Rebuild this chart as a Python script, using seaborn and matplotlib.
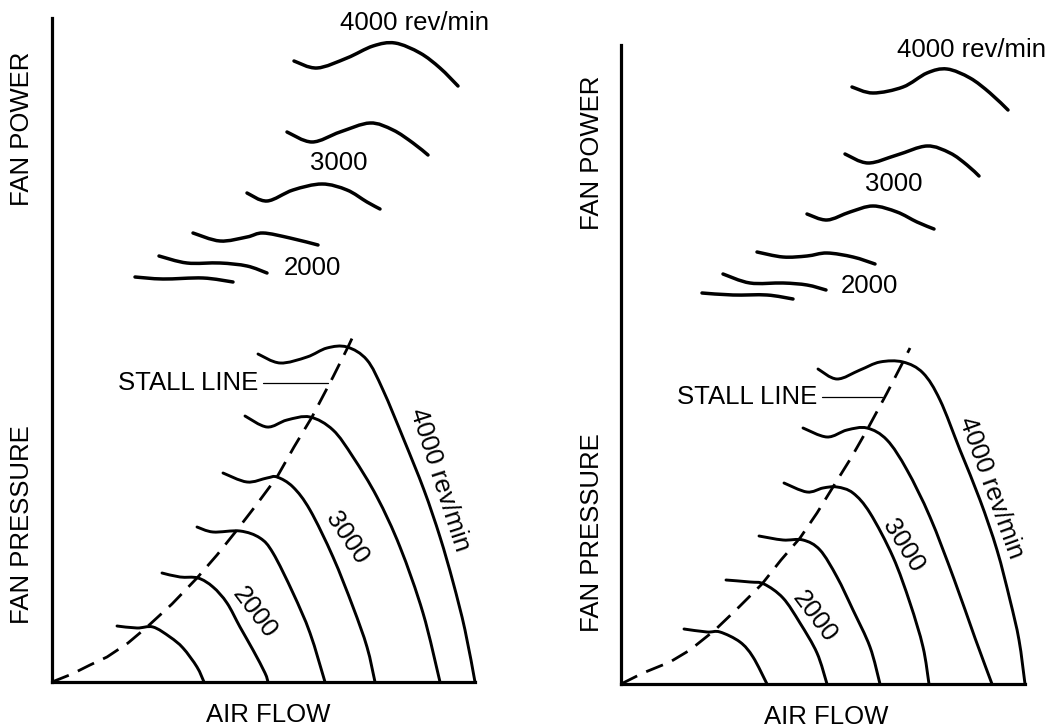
import matplotlib
matplotlib.use("Agg")
import matplotlib.pyplot as plt
from matplotlib.path import Path
from matplotlib.patches import PathPatch
import seaborn as sns
import pandas as pd
import numpy as np

# ---------------------------------------------------------------------------
# Fan characteristics: pressure and power against air flow for several speeds
# (relative units, origin at the corner of each frame)
# ---------------------------------------------------------------------------

# Left diagram ---------------------------------------------------------------
left_pressure = [
    [(65, 56), (85, 54), (101, 55), (118, 45), (131, 34), (145, 15), (152, 0)],
    [(110, 109), (128, 105), (146, 104), (161, 95), (175, 79), (188, 55),
     (201, 32), (213, 9), (216, 0)],
    [(145, 155), (161, 150), (188, 151), (208, 144), (221, 129), (241, 89),
     (258, 49), (273, 0)],
    [(171, 209), (195, 200), (215, 204), (225, 205), (241, 195), (258, 172),
     (281, 125), (301, 75), (315, 35), (323, 0)],
    [(193, 266), (215, 255), (235, 262), (258, 265), (281, 252), (301, 225),
     (325, 185), (348, 135), (371, 69), (388, 0)],
    [(206, 328), (228, 319), (255, 325), (275, 334), (295, 335), (315, 322),
     (331, 292), (352, 242), (372, 192), (388, 145), (401, 100), (413, 52),
     (423, 0)],
]
left_power = [
    [(83, 405), (111, 403), (151, 404), (181, 400)],
    [(107, 426), (135, 419), (168, 419), (195, 416), (215, 409)],
    [(141, 449), (168, 441), (195, 445), (211, 449), (238, 444), (266, 437)],
    [(195, 489), (215, 481), (241, 492), (270, 498), (295, 492), (315, 480),
     (328, 473)],
    [(235, 550), (260, 540), (288, 550), (318, 559), (341, 552), (361, 539),
     (376, 527)],
    [(242, 621), (265, 614), (295, 624), (321, 636), (343, 639), (368, 629),
     (388, 614), (406, 596)],
]
left_stall = [(0, 0), (20, 8), (38, 17), (55, 25), (76, 39), (95, 55),
              (120, 78), (145, 104), (165, 127), (185, 152), (205, 178),
              (225, 205), (242, 235), (260, 265), (281, 305), (296, 335),
              (303, 350)]

# Right diagram --------------------------------------------------------------
right_pressure = [
    [(63, 55), (86, 52), (99, 52), (119, 42), (132, 27), (146, 0)],
    [(105, 104), (129, 102), (143, 100), (162, 86), (179, 61), (196, 31),
     (206, 0)],
    [(138, 148), (162, 144), (182, 144), (199, 134), (216, 107), (232, 74),
     (249, 37), (259, 0)],
    [(163, 201), (186, 192), (202, 196), (216, 197), (232, 191), (249, 171),
     (272, 127), (289, 81), (302, 37), (308, 0)],
    [(182, 256), (206, 247), (226, 254), (246, 256), (266, 244), (286, 214),
     (309, 167), (333, 105), (354, 46), (371, 0)],
    [(197, 315), (216, 305), (239, 314), (259, 322), (282, 322), (302, 311),
     (319, 284), (339, 234), (359, 184), (376, 134), (389, 84), (398, 44),
     (404, 0)],
]
right_power = [
    [(81, 391), (112, 389), (146, 389), (172, 385)],
    [(102, 410), (129, 401), (162, 401), (186, 399), (205, 394)],
    [(136, 432), (162, 427), (186, 428), (206, 431), (232, 427), (254, 420)],
    [(186, 470), (206, 464), (229, 472), (252, 478), (276, 472), (296, 462),
     (313, 455)],
    [(224, 530), (247, 521), (276, 529), (306, 538), (329, 531), (346, 519),
     (358, 508)],
    [(231, 597), (252, 591), (282, 597), (306, 611), (326, 615), (349, 606),
     (369, 591), (387, 574)],
]
right_stall = [(0, 0), (22, 11), (49, 22), (69, 34), (94, 54), (118, 77),
               (141, 100), (160, 124), (179, 146), (196, 171), (212, 197),
               (230, 226), (246, 254), (266, 291), (282, 322), (289, 336)]

speed_labels = ["2000", "3000", "4000 rev/min"]

# ---------------------------------------------------------------------------
sns.set_theme(style="white")
plt.rcParams["font.family"] = ["Liberation Sans", "DejaVu Sans"]
plt.rcParams["text.color"] = "black"
FS = 18.5
W, H = 1045, 727

fig = plt.figure(figsize=(W / 100, H / 100), dpi=100)


def frame(x0, y0, x1, y1):
    """Axes whose data units are pixels measured from the frame corner."""
    ax = fig.add_axes([x0 / W, 1 - y0 / H, (x1 - x0) / W, (y0 - y1) / H])
    ax.set_xlim(0, x1 - x0)
    ax.set_ylim(0, y0 - y1)
    ax.patch.set_alpha(0)
    for side in ("top", "right"):
        ax.spines[side].set_visible(False)
    for side in ("left", "bottom"):
        ax.spines[side].set_color("black")
        ax.spines[side].set_linewidth(2.3)
    ax.set_xticks([])
    ax.set_yticks([])
    return ax


def smooth_path(pts):
    """Catmull-Rom curve through the given points, as cubic Bezier segments."""
    p = np.asarray(pts, dtype=float)
    ext = np.vstack([p[0], p, p[-1]])
    verts = [p[0]]
    codes = [Path.MOVETO]
    for i in range(1, len(ext) - 2):
        p0, p1, p2, p3 = ext[i - 1], ext[i], ext[i + 1], ext[i + 2]
        verts += [p1 + (p2 - p0) / 6.0, p2 - (p3 - p1) / 6.0, p2]
        codes += [Path.CURVE4] * 3
    return Path(verts, codes)


def draw_curve(ax, pts, lw):
    ax.add_patch(PathPatch(smooth_path(pts), facecolor="none",
                           edgecolor="black", lw=lw, capstyle="round",
                           joinstyle="round", clip_on=False))


def panel(ax, pressure, power, stall, conf):
    for c in pressure:
        draw_curve(ax, c, 2.1)
    for c in power:
        draw_curve(ax, c, 2.5)
    df = pd.DataFrame(stall, columns=["flow", "value"])
    sns.lineplot(data=df, x="flow", y="value", sort=False, estimator=None,
                 color="black", lw=2.0, ax=ax, clip_on=False,
                 linestyle=(0, (6.5, 3.6)))
    ax.set_xlabel("")
    ax.set_ylabel("")
    ax.set_xlim(0, conf["size"][0])
    ax.set_ylim(0, conf["size"][1])

    # stall line callout
    lx0, lx1, ly = conf["leader"]
    ax.plot([lx0, lx1], [ly, ly], color="black", lw=0.9, clip_on=False)
    ax.text(lx0 - 5, ly, "STALL LINE", ha="right", va="center", fontsize=FS)

    # speed labels on the pressure curves
    for txt, (x, y, rot) in zip(speed_labels, conf["press_lab"]):
        ax.text(x, y, txt, rotation=rot, ha="center", va="center",
                fontsize=FS, rotation_mode="anchor")
    # speed labels on the power curves
    for txt, (x, y, ha) in zip(speed_labels, conf["power_lab"]):
        ax.text(x, y, txt, ha=ha, va="center", fontsize=FS, clip_on=False)

    # axis titles
    px, py1, py2 = conf["ytitles"]
    ax.text(px, py1, "FAN POWER", rotation=90, ha="center", va="center",
            fontsize=FS)
    ax.text(px, py2, "FAN PRESSURE", rotation=90, ha="center", va="center",
            fontsize=FS)
    ax.text(conf["xtitle"][0], conf["xtitle"][1], "AIR FLOW", ha="center",
            va="center", fontsize=FS)


axL = frame(52, 682, 475, 18)
panel(axL, left_pressure, left_power, left_stall, {
    "size": (423, 664),
    "leader": (211, 276, 299),
    "press_lab": [(203, 69, -53), (295, 144, -56), (388, 202, -72)],
    "power_lab": [(260, 414, "center"), (287, 519, "center"),
                  (288, 659, "left")],
    "ytitles": (-30, 553, 157),
    "xtitle": (216, -33),
})

axR = frame(621, 684, 1025, 45)
panel(axR, right_pressure, right_power, right_stall, {
    "size": (404, 639),
    "leader": (201, 261, 287),
    "press_lab": [(194, 67, -53), (282, 138, -58), (370, 196, -70)],
    "power_lab": [(248, 398, "center"), (273, 500, "center"),
                  (276, 634, "left")],
    "ytitles": (-29, 531, 151),
    "xtitle": (205, -33),
})

fig.savefig("out.png", dpi=100, facecolor="white")
